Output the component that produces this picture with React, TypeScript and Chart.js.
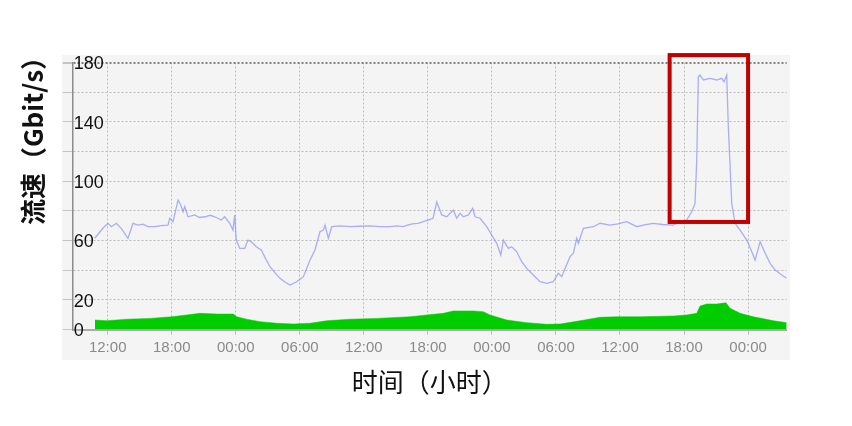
import React, { useEffect, useRef } from "react";
import { Chart, registerables } from "chart.js";

Chart.register(...registerables);

// hours relative to the first "12:00" tick
const lineHours = [
  -1.22, -0.44, 0.03, 0.34, 0.81, 1.27, 1.9, 2.37, 2.84, 3.3, 3.78, 4.4, 5.0, 5.65, 5.81, 6.12, 6.59, 6.84, 7.06, 7.22, 7.52, 8.15, 8.6, 9.09, 9.6, 10.03, 10.64, 10.96, 11.43, 11.74, 11.9, 12.05, 12.37, 12.84, 13.15, 13.46, 13.92, 14.39, 14.86, 15.21, 15.7, 16.15, 16.6, 17.08, 17.71, 18.33, 18.96, 19.42, 19.89, 20.2, 20.36, 20.67, 20.99, 21.8, 22.7, 23.6, 24.58, 25.5, 26.45, 27.1, 27.67, 28.33, 28.7, 29.08, 29.5, 30.01, 30.48, 30.83, 31.3, 31.77, 32.38, 32.7, 33.01, 33.32, 33.79, 34.2, 34.42, 34.89, 35.51, 35.98, 36.45, 36.83, 37.07, 37.54, 37.86, 38.32, 38.79, 39.26, 39.88, 40.51, 41.14, 41.75, 42.22, 42.54, 42.85, 43.32, 43.63, 43.95, 44.1, 44.57, 45.5, 46.13, 47.07, 47.8, 48.63, 49.57, 50.3, 51.1, 52.0, 52.97, 53.32, 54.25, 54.72, 55.03, 55.19, 55.34, 55.5, 55.81, 56.44, 57.06, 57.53, 57.75, 58.0, 58.15, 58.47, 58.78, 59.25, 59.88, 60.35, 60.66, 61.13, 61.6, 62.07, 62.54, 63.16, 63.62,
];
const lineValues = [
  61.5, 68.4, 71.6, 69.3, 71.6, 68.2, 61.5, 71.6, 70.4, 71.0, 69.3, 69.3, 70.0, 70.4, 75, 72.7, 87.3, 83.9, 79.4, 82.8, 76, 77.2, 75.5, 76, 77.0, 76, 73.8, 76, 71.6, 67, 77.2, 60.3, 54.7, 54.7, 60.3, 59.2, 55.8, 53.6, 46.8, 42.3, 38.0, 34.5, 32.0, 30, 32.2, 35.6, 46.8, 53.6, 65.9, 67, 70.4, 61.5, 69.3, 69.8, 69.3, 69.6, 69.8, 69.3, 69.3, 69.8, 69.3, 70.8, 71.4, 71.6, 72.6, 73.8, 75, 86, 77.2, 76, 80.5, 75, 78.3, 76, 77.2, 81.7, 76, 75, 69.3, 63.7, 58.1, 50.2, 60.3, 54.7, 55.8, 52.4, 45.7, 41.2, 36.7, 32.2, 31.1, 32.2, 37.9, 35.6, 41.2, 49.1, 51.4, 61.5, 58.1, 68.2, 69.3, 71.6, 70.4, 71.2, 72.7, 69.3, 70.6, 71.6, 70.8, 70.4, 71.6, 73.8, 79.4, 85, 114, 170.4, 171.5, 168.2, 169.3, 168.2, 169.3, 167, 171.5, 136.7, 85, 71.6, 67, 60.3, 52.4, 46.8, 59.2, 51.4, 44.6, 40.1, 36.7, 34.5,
];

const areaHours = [
  -1.19, -0.09, 1.78, 3.96, 6.0, 7.4, 8.65, 10.21, 11.77, 12.09, 13.02, 14.27, 15.84, 17.39, 18.96, 20.52, 22.7, 25.21, 28.33, 29.89, 31.45, 32.38, 34.26, 35.19, 35.82, 37.39, 39.26, 41.14, 42.38, 44.26, 46.13, 47.69, 49.88, 53.0, 54.25, 55.19, 55.5, 56.13, 57.06, 57.93, 58.31, 59.25, 60.5, 62.38, 63.62,
];
const areaValues = [
  6.4, 5.9, 6.9, 7.5, 8.6, 9.8, 10.9, 10.4, 10.4, 8.6, 6.9, 5.3, 4.2, 3.7, 4.2, 5.9, 6.9, 7.5, 8.6, 9.8, 10.9, 12.5, 12.5, 12, 9.8, 6.4, 4.6, 3.5, 3.7, 5.9, 8.2, 8.6, 8.6, 9.1, 9.8, 10.9, 15.8, 17.2, 17.2, 18, 14.3, 10.9, 8.6, 5.9, 4.6,
];

const xTickClock = ["12:00", "18:00", "00:00", "06:00", "12:00", "18:00", "00:00", "06:00", "12:00", "18:00", "00:00"];
const yLabelled = [0, 20, 60, 100, 140, 180];
const yTitle = "流速（Gbit/s）";
const xTitle = "时间（小时）";
// highlight box in data units: [x from, x to, y from, y to]
const highlightBox = [52.65, 60.0, 72.5, 185];

const X_MIN = -3.28;
const X_MAX = 63.62;

const panelPlugin = {
  id: "panelBg",
  beforeDraw(chart: any) {
    const { ctx, chartArea } = chart;
    ctx.save();
    ctx.fillStyle = "#f4f4f4";
    ctx.fillRect(chartArea.left - 10.7, chartArea.top - 7.5, chartArea.right - chartArea.left + 14, chartArea.bottom - chartArea.top + 38);
    ctx.restore();
  },
};

const yTitlePlugin = {
  id: "yTitle",
  afterDraw(chart: any) {
    const { ctx, chartArea } = chart;
    ctx.save();
    ctx.translate(chartArea.left - 40, chartArea.top + 72);
    ctx.rotate(-Math.PI / 2);
    ctx.fillStyle = "#111";
    ctx.font = "bold 26px 'Noto Sans CJK SC', sans-serif";
    ctx.textAlign = "center";
    ctx.textBaseline = "middle";
    ctx.fillText(yTitle, 0, 0);
    ctx.restore();
  },
};

const boxPlugin = {
  id: "highlight",
  afterDraw(chart: any) {
    const { ctx, scales } = chart;
    const x1 = scales.x.getPixelForValue(highlightBox[0]);
    const x2 = scales.x.getPixelForValue(highlightBox[1]);
    const y1 = scales.y.getPixelForValue(highlightBox[3]);
    const y2 = scales.y.getPixelForValue(highlightBox[2]);
    ctx.save();
    ctx.strokeStyle = "#c00000";
    ctx.lineWidth = 4;
    ctx.strokeRect(x1, y1, x2 - x1, y2 - y1);
    ctx.restore();
  },
};

export default function App() {
  const ref = useRef<HTMLCanvasElement>(null);
  useEffect(() => {
    if (!ref.current) return;
    const chart = new Chart(ref.current, {
      type: "line",
      data: {
        datasets: [
          {
            label: "line",
            data: lineHours.map((h, i) => ({ x: h, y: lineValues[i] })),
            borderColor: "rgba(130,135,248,0.65)",
            borderWidth: 1.3,
            pointRadius: 0,
            tension: 0,
            fill: false,
          },
          {
            label: "area",
            data: areaHours.map((h, i) => ({ x: h, y: areaValues[i] })),
            borderColor: "#00c800",
            borderWidth: 0.5,
            backgroundColor: "#00cc00",
            pointRadius: 0,
            tension: 0,
            fill: "origin",
          },
        ],
      },
      options: {
        responsive: false,
        animation: false,
        devicePixelRatio: 1,
        layout: { padding: { left: 13.5, right: 65.3, top: 62.5, bottom: 24 } },
        plugins: { legend: { display: false }, tooltip: { enabled: false } },
        scales: {
          x: {
            type: "linear",
            min: X_MIN,
            max: X_MAX,
            afterFit: (s: any) => {
              s.height = 72.5;
            },
            ticks: {
              stepSize: 6,
              includeBounds: false,
              autoSkip: false,
              maxRotation: 0,
              padding: 4,
              color: "#8a8a8a",
              font: { family: "'Liberation Sans', Arial, sans-serif", size: 15 },
              callback: (v: any) => {
                const idx = Math.round(Number(v) / 6);
                return xTickClock[idx] ?? "";
              },
            },
            grid: { color: "#bdbdbd", lineWidth: 1, tickLength: 5, tickColor: "#bbbbbb" },
            border: { display: true, color: "#ababab", width: 2, dash: [2, 2] },
            title: {
              display: true,
              text: xTitle,
              color: "#111",
              font: { family: "'Noto Sans CJK SC', sans-serif", size: 26 },
              padding: { top: 4, bottom: 4 },
            },
          },
          y: {
            min: 0,
            max: 180,
            afterFit: (s: any) => {
              s.width = 59.2;
            },
            ticks: {
              stepSize: 20,
              mirror: true,
              padding: 1,
              labelOffset: 2,
              color: "#111",
              font: { family: "'Liberation Sans', Arial, sans-serif", size: 18 },
              callback: (v: any) => (yLabelled.includes(Number(v)) ? String(v) : ""),
            },
            grid: {
              color: (c: any) => (c.tick && c.tick.value === 180 ? "#808080" : "#bdbdbd"),
              lineWidth: (c: any) => (c.tick && c.tick.value === 180 ? 2 : 1),
              tickLength: 10,
              tickColor: "#c4c4c4",
            },
            border: { display: true, color: "#8c8c8c", width: 1.5, dash: [2, 2] },
          },
        },
      },
      plugins: [panelPlugin, boxPlugin, yTitlePlugin],
    } as any);
    return () => chart.destroy();
  }, []);
  return (
    <div style={{ position: "fixed", left: 0, top: 0, width: 852, height: 426, background: "#fff" }}>
      <canvas ref={ref} width={852} height={426} style={{ display: "block" }} />
    </div>
  );
}
